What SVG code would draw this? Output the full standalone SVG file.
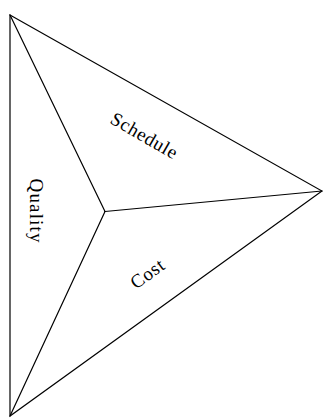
<svg xmlns="http://www.w3.org/2000/svg" width="323" height="419" viewBox="0 0 323 419">
  <style>
    .edge { stroke: #000; stroke-width: 1.2; fill: none; stroke-linecap: round; stroke-linejoin: miter; }
    .label { font-family: "Liberation Serif", "Times New Roman", serif; font-size: 19px; fill: #000; text-anchor: middle; }
  </style>
  <rect width="323" height="419" fill="#fff"/>
  <g id="connectors">
    <polygon class="edge" points="10,15 322,191 10,416"/>
    <line class="edge" x1="105" y1="211.5" x2="10" y2="15"/>
    <line class="edge" x1="105" y1="211.5" x2="322" y2="191"/>
    <line class="edge" x1="105" y1="211.5" x2="10" y2="416"/>
  </g>
  <g id="schedule">
    <text class="label" transform="translate(141,141) rotate(30)" textLength="74" lengthAdjust="spacing">Schedule</text>
  </g>
  <g id="quality">
    <text class="label" transform="translate(30,210.5) rotate(90)" textLength="64" lengthAdjust="spacing">Quality</text>
  </g>
  <g id="cost">
    <text class="label" transform="translate(151,279) rotate(-36)" textLength="37" lengthAdjust="spacing">Cost</text>
  </g>
</svg>
